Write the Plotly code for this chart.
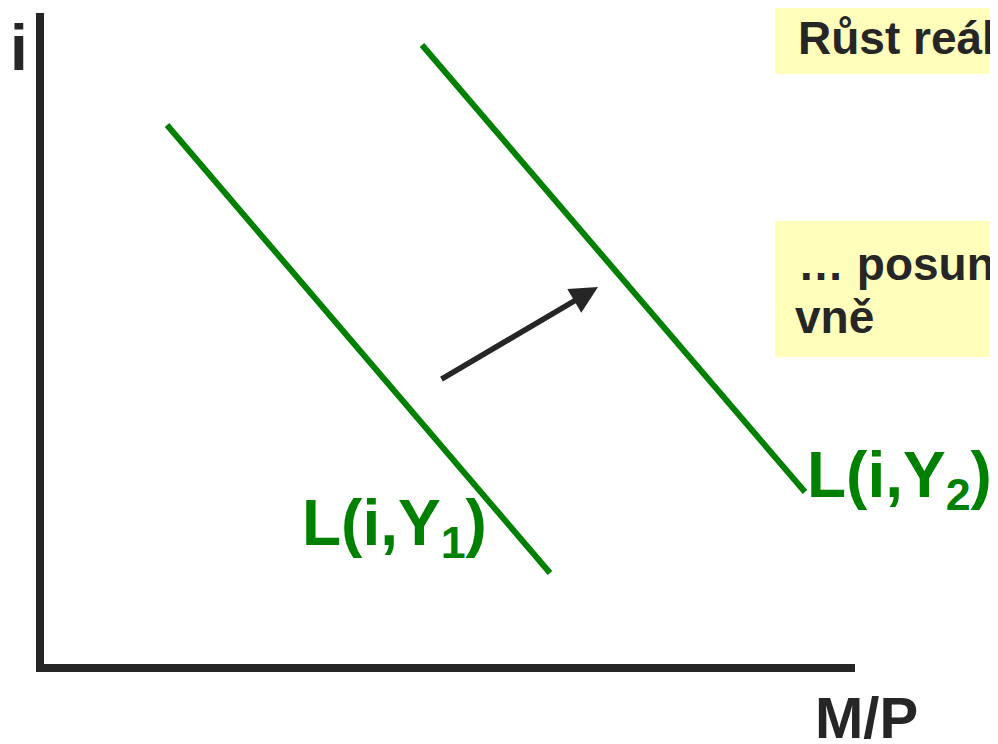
import plotly.graph_objects as go

# Schematic money-demand diagram (coordinates: M/P horizontal, i vertical)
curve1_mp = [127, 510]
curve1_i = [543, 95]
curve2_mp = [382, 765]
curve2_i = [623, 176]
arrow_from = (400, 288)
arrow_to = (558, 381)
curve_labels = ["L(i,Y<sub>1</sub>)", "L(i,Y<sub>2</sub>)"]
axis_x_title = "M/P"
axis_y_title = "i"
box_lines = ["Růst reál", "… posun", "vně"]

GREEN = "#008000"
DARK = "#262626"
YELLOW = "#FFFFBB"
FONT = "Liberation Sans, Arial, sans-serif"

fig = go.Figure()

# axes lines
fig.add_trace(go.Scatter(x=[0, 0], y=[655, -4], mode="lines",
                         line=dict(color=DARK, width=8), hoverinfo="skip", showlegend=False))
fig.add_trace(go.Scatter(x=[-4, 815], y=[0, 0], mode="lines",
                         line=dict(color=DARK, width=8), hoverinfo="skip", showlegend=False))

# curves
fig.add_trace(go.Scatter(x=curve1_mp, y=curve1_i, mode="lines",
                         line=dict(color=GREEN, width=6), hoverinfo="skip", showlegend=False))
fig.add_trace(go.Scatter(x=curve2_mp, y=curve2_i, mode="lines",
                         line=dict(color=GREEN, width=6), hoverinfo="skip", showlegend=False))

# yellow boxes
fig.add_shape(type="rect", x0=735, x1=980, y0=594, y1=680, xref="x", yref="y",
              fillcolor=YELLOW, line=dict(width=0), layer="below")
fig.add_shape(type="rect", x0=735, x1=980, y0=311, y1=447, xref="x", yref="y",
              fillcolor=YELLOW, line=dict(width=0), layer="below")

# arrow
fig.add_annotation(x=arrow_to[0], y=arrow_to[1], ax=arrow_from[0], ay=arrow_from[1],
                   xref="x", yref="y", axref="x", ayref="y", text="",
                   showarrow=True, arrowhead=2, arrowsize=1.0, arrowwidth=5.5,
                   arrowcolor=DARK)

# curve labels
fig.add_annotation(x=260, y=141, xref="x", yref="y", text=curve_labels[0],
                   showarrow=False, xanchor="left", yanchor="middle",
                   font=dict(family=FONT, size=64, color=GREEN, weight="bold"))
fig.add_annotation(x=765, y=189, xref="x", yref="y", text=curve_labels[1],
                   showarrow=False, xanchor="left", yanchor="middle",
                   font=dict(family=FONT, size=64, color=GREEN, weight="bold"))

# axis titles
fig.add_annotation(x=-21, y=620, xref="x", yref="y", text=axis_y_title,
                   showarrow=False, xanchor="center", yanchor="middle",
                   font=dict(family=FONT, size=64, color=DARK, weight="bold"))
fig.add_annotation(x=773, y=-49, xref="x", yref="y", text=axis_x_title,
                   showarrow=False, xanchor="left", yanchor="middle",
                   font=dict(family=FONT, size=58, color=DARK, weight="bold"))

# box texts
fig.add_annotation(x=756, y=630, xref="x", yref="y", text=box_lines[0],
                   showarrow=False, xanchor="left", yanchor="middle", align="left",
                   font=dict(family=FONT, size=46, color=DARK, weight="bold"))
fig.add_annotation(x=756, y=404, xref="x", yref="y", text=box_lines[1],
                   showarrow=False, xanchor="left", yanchor="middle", align="left",
                   font=dict(family=FONT, size=46, color=DARK, weight="bold"))
fig.add_annotation(x=753, y=351, xref="x", yref="y", text=box_lines[2],
                   showarrow=False, xanchor="left", yanchor="middle", align="left",
                   font=dict(family=FONT, size=46, color=DARK, weight="bold"))

fig.update_layout(
    width=998, height=744,
    margin=dict(l=0, r=0, t=0, b=0),
    paper_bgcolor="white", plot_bgcolor="white",
    xaxis=dict(range=[-32, 966], visible=False, fixedrange=True),
    yaxis=dict(range=[-84, 660], visible=False, fixedrange=True),
    showlegend=False,
)

fig.write_html("out.html")
